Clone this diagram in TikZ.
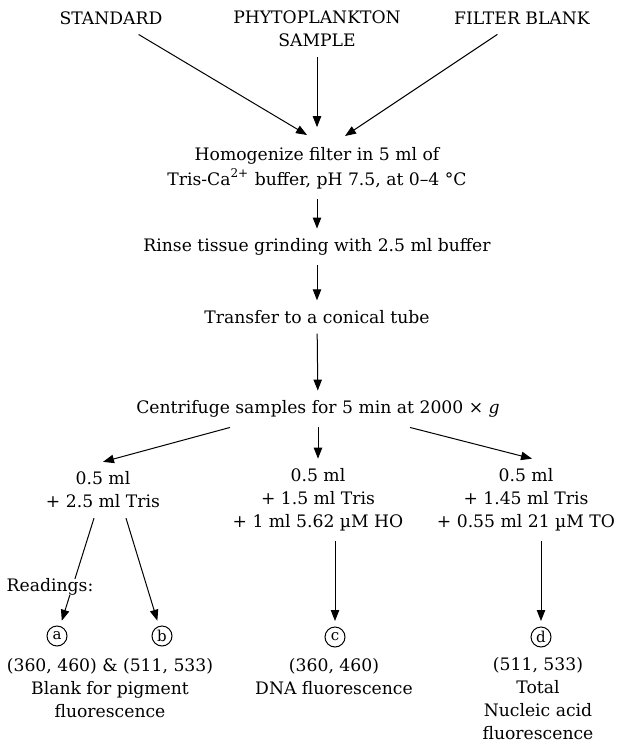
\documentclass[tikz,border=0pt]{standalone}
\usepackage{fontspec}
\setmainfont{DejaVu Serif}
\usetikzlibrary{arrows.meta}

\begin{document}
\begin{tikzpicture}[x=0.5pt,y=-0.5pt,
  txt/.style={align=center,inner sep=1pt,outer sep=4pt,font=\fontsize{8.6}{11.5}\selectfont},
  lbl/.style={circle,draw,line width=0.5pt,inner sep=0pt,minimum size=10pt,outer sep=3pt,font=\fontsize{7.5}{9}\selectfont},
  arr/.style={-{Triangle[length=5.5pt,width=4.2pt]},line width=0.5pt},
  ln/.style={line width=0.5pt}]
\useasboundingbox (0,0) rectangle (618,744);
% sources
\node (std) at (111,18) [txt] {STANDARD};
\node (phyto) at (317,29) [txt] {PHYTOPLANKTON\\SAMPLE};
\node (fblank) at (522,18) [txt] {FILTER BLANK};
% preparation steps
\node (homog) at (317,168) [txt,font=\fontsize{8.6}{12.5}\selectfont] {Homogenize filter in 5 ml of\\Tris-Ca\textsuperscript{2+} buffer, pH 7.5, at 0–4 °C};
\node (rinse) at (317,247) [txt] {Rinse tissue grinding with 2.5 ml buffer};
\node (transfer) at (317,317) [txt] {Transfer to a conical tube};
\node (centri) at (318,409) [txt] {Centrifuge samples for 5 min at 2000 × \textit{g}};
% aliquots
\node (mixa) at (103,490) [txt] {0.5 ml\\+ 2.5 ml Tris};
\node (mixb) at (318,500) [txt] {0.5 ml\\+ 1.5 ml Tris\\+ 1 ml 5.62 µM HO};
\node (mixc) at (526,500) [txt] {0.5 ml\\+ 1.45 ml Tris\\+ 0.55 ml 21 µM TO};
% readings
\node (ca) at (57,636) [lbl] {a};
\node (cb) at (162,636) [lbl] {b};
\node (cc) at (335,637) [lbl] {c};
\node (cd) at (541,637) [lbl] {d};
\node (resa) at (110,688) [txt] {(360, 460) \& (511, 533)\\Blank for pigment\\fluorescence};
\node (resc) at (334,677) [txt] {(360, 460)\\DNA fluorescence};
\node (resd) at (538,699) [txt] {(511, 533)\\Total\\Nucleic acid\\fluorescence};
\coordinate (hl) at (307,135);
\coordinate (hr) at (345,136);

\draw[arr] (std) -- (hl);
\draw[arr] (fblank) -- (hr);
\draw[arr,shorten >=5pt] (phyto) -- (homog);
\draw[arr] (homog) -- (rinse);
\draw[arr] (rinse) -- (transfer);
\draw[arr] (transfer) -- (centri);
\draw[arr] ([shift={(-88,0)}]centri.south) -- (mixa.north);
\draw[arr] (centri) -- (mixb);
\draw[arr] ([shift={(92,0)}]centri.south) -- ([shift={(6,0)}]mixc.north);
\draw[arr] ([shift={(-9,0)}]mixa.south) -- (ca);
\draw[arr] ([shift={(23,0)}]mixa.south) -- (cb);
\draw[arr] ([shift={(17,0)}]mixb.south) -- (cc);
\draw[arr] ([shift={(15,0)}]mixc.south) -- (cd);
\node (readings) at (50,587) [txt,fill=white,inner sep=0pt,outer sep=0pt] {Readings:};
\end{tikzpicture}
\end{document}
